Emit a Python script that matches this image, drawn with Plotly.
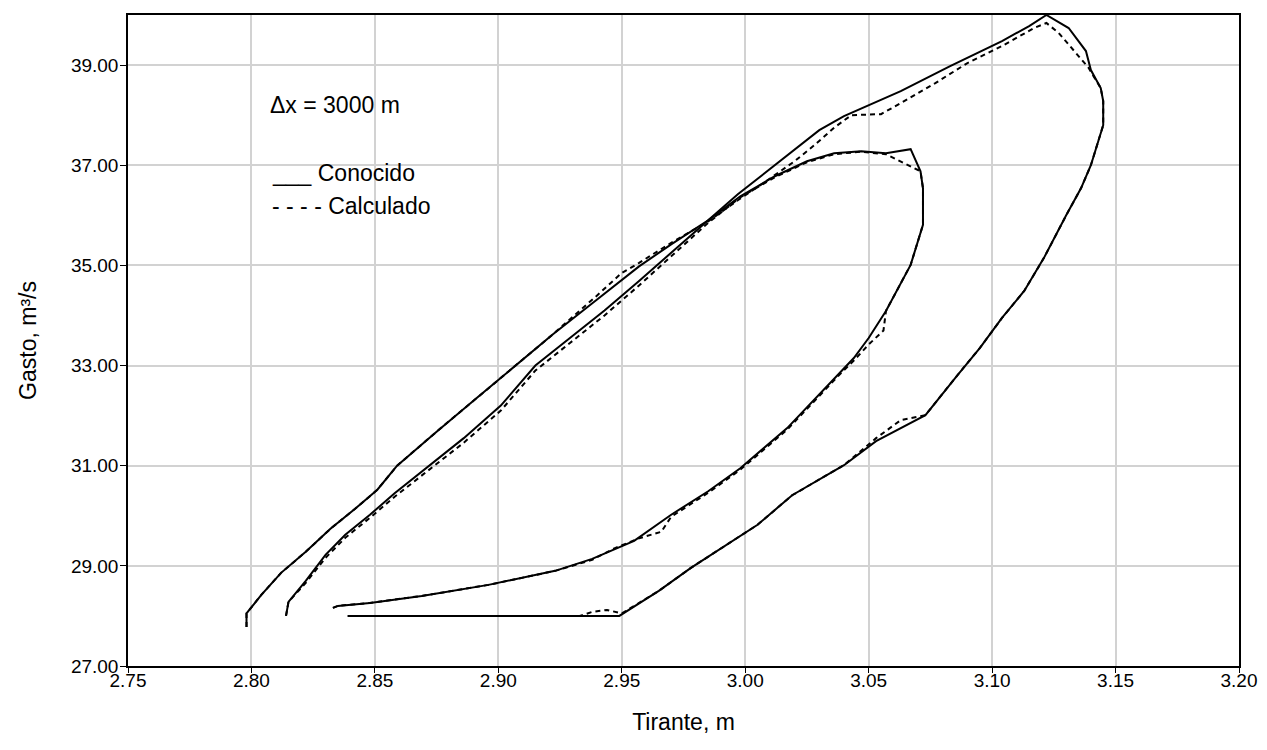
import plotly.graph_objects as go

# ---- data (Tirante m, Gasto m3/s) ----
outer_known_x = [2.798, 2.798, 2.804, 2.812, 2.822, 2.832, 2.842, 2.851, 2.859, 2.875, 2.891, 2.907, 2.922,
                 2.940, 2.957, 2.970, 2.985, 2.997, 3.009, 3.021, 3.030, 3.040, 3.051, 3.063, 3.083, 3.104,
                 3.115, 3.122, 3.131, 3.138, 3.140, 3.144, 3.145, 3.145, 3.143, 3.140, 3.136, 3.130, 3.121,
                 3.113, 3.104, 3.095, 3.086, 3.073, 3.053, 3.040, 3.019, 3.005, 2.978, 2.965, 2.949, 2.900, 2.839]
outer_known_y = [27.78, 28.05, 28.42, 28.86, 29.28, 29.74, 30.14, 30.52, 31.00, 31.68, 32.34, 33.00, 33.62,
                 34.32, 34.98, 35.42, 35.90, 36.42, 36.88, 37.34, 37.70, 37.98, 38.22, 38.48, 38.98, 39.48,
                 39.78, 40.00, 39.74, 39.28, 38.90, 38.54, 38.28, 37.80, 37.48, 37.00, 36.54, 36.00, 35.15,
                 34.49, 33.95, 33.35, 32.81, 32.01, 31.49, 31.01, 30.41, 29.82, 28.96, 28.50, 28.00, 28.00, 28.00]

outer_calc_x = [2.798, 2.798, 2.804, 2.812, 2.822, 2.832, 2.842, 2.851, 2.859, 2.875, 2.891, 2.907, 2.922,
                2.940, 2.950, 2.957, 2.970, 2.985, 2.997, 3.009, 3.020, 3.028, 3.036, 3.043, 3.055, 3.063,
                3.077, 3.090, 3.104, 3.117, 3.122, 3.127, 3.131, 3.135, 3.139, 3.144, 3.145, 3.145, 3.143,
                3.140, 3.136, 3.130, 3.121, 3.113, 3.104, 3.095, 3.086, 3.073, 3.063, 3.053, 3.040, 3.019,
                3.005, 2.978, 2.965, 2.950, 2.944, 2.938, 2.933, 2.900, 2.839]
outer_calc_y = [27.78, 28.05, 28.42, 28.86, 29.28, 29.74, 30.14, 30.52, 31.00, 31.68, 32.34, 33.00, 33.62,
                34.40, 34.85, 35.05, 35.45, 35.88, 36.30, 36.70, 37.08, 37.40, 37.75, 38.00, 38.02, 38.24,
                38.64, 39.04, 39.38, 39.74, 39.84, 39.64, 39.40, 39.18, 38.95, 38.54, 38.28, 37.80, 37.48,
                37.00, 36.54, 36.00, 35.15, 34.49, 33.95, 33.35, 32.81, 32.01, 31.91, 31.55, 31.01, 30.41,
                29.82, 28.96, 28.50, 28.05, 28.12, 28.08, 28.00, 28.00, 28.00]

inner_known_x = [2.814, 2.815, 2.822, 2.830, 2.838, 2.848, 2.858, 2.872, 2.886, 2.901, 2.915, 2.929, 2.943,
                 2.957, 2.971, 2.985, 2.998, 3.012, 3.025, 3.036, 3.047, 3.057, 3.067, 3.071, 3.072, 3.072,
                 3.067, 3.057, 3.050, 3.044, 3.039, 3.017, 2.998, 2.985, 2.970, 2.955, 2.938, 2.923, 2.896,
                 2.869, 2.848, 2.835, 2.833]
inner_known_y = [28.00, 28.28, 28.70, 29.22, 29.62, 30.02, 30.45, 31.00, 31.55, 32.20, 33.00, 33.55, 34.10,
                 34.69, 35.30, 35.90, 36.38, 36.78, 37.08, 37.24, 37.28, 37.24, 37.32, 36.88, 36.54, 35.81,
                 35.01, 34.09, 33.55, 33.15, 32.89, 31.75, 30.95, 30.49, 30.02, 29.50, 29.14, 28.90, 28.62,
                 28.40, 28.26, 28.20, 28.16]

inner_calc_x = [2.814, 2.815, 2.822, 2.830, 2.838, 2.848, 2.858, 2.872, 2.886, 2.901, 2.915, 2.929, 2.943,
                2.957, 2.971, 2.985, 2.998, 3.012, 3.025, 3.036, 3.047, 3.057, 3.071, 3.072, 3.072, 3.067,
                3.057, 3.056, 3.050, 3.044, 3.039, 3.017, 2.998, 2.985, 2.970, 2.966, 2.957, 2.947, 2.938,
                2.923, 2.896, 2.869, 2.848, 2.835, 2.833]
inner_calc_y = [28.00, 28.28, 28.66, 29.16, 29.56, 29.96, 30.38, 30.92, 31.46, 32.10, 32.90, 33.45, 34.00,
                34.60, 35.22, 35.85, 36.36, 36.76, 37.06, 37.22, 37.27, 37.22, 36.88, 36.54, 35.81, 35.01,
                34.09, 33.70, 33.42, 33.10, 32.86, 31.72, 30.92, 30.46, 29.98, 29.68, 29.55, 29.35, 29.12,
                28.90, 28.62, 28.40, 28.26, 28.20, 28.16]

x_ticks = [2.75, 2.80, 2.85, 2.90, 2.95, 3.00, 3.05, 3.10, 3.15, 3.20]
y_ticks = [27, 29, 31, 33, 35, 37, 39]

FONT = "Liberation Sans, Arial, sans-serif"

fig = go.Figure()
solid = dict(color="black", width=2)
dashed = dict(color="black", width=2, dash="5px,4px")
fig.add_trace(go.Scatter(x=outer_calc_x, y=outer_calc_y, mode="lines", line=dashed, name="Calculado", showlegend=False))
fig.add_trace(go.Scatter(x=inner_calc_x, y=inner_calc_y, mode="lines", line=dashed, name="Calculado", showlegend=False))
fig.add_trace(go.Scatter(x=outer_known_x, y=outer_known_y, mode="lines", line=solid, name="Conocido", showlegend=False))
fig.add_trace(go.Scatter(x=inner_known_x, y=inner_known_y, mode="lines", line=solid, name="Conocido", showlegend=False))

fig.update_xaxes(range=[2.75, 3.20], tickvals=x_ticks, ticktext=[f"{v:.2f}" for v in x_ticks],
                 showgrid=True, gridcolor="#d2d2d2", gridwidth=1.5, zeroline=False,
                 showline=True, linecolor="black", linewidth=1.5, mirror=True,
                 ticks="outside", ticklen=5, tickcolor="black", ticklabelstandoff=-9,
                 tickfont=dict(family=FONT, size=19, color="black"),
                 title=dict(text="Tirante, m", font=dict(family=FONT, size=23, color="black"), standoff=24))
fig.update_yaxes(range=[27, 40], tickvals=y_ticks, ticktext=[f"{v:.2f}" for v in y_ticks],
                 showgrid=True, gridcolor="#d2d2d2", gridwidth=1.5, zeroline=False,
                 showline=True, linecolor="black", linewidth=1.5, mirror=True,
                 ticks="outside", ticklen=6, tickcolor="black", ticklabelstandoff=-2,
                 tickfont=dict(family=FONT, size=19, color="black"),
                 title=dict(text="Gasto, m³/s", font=dict(family=FONT, size=23, color="black"), standoff=28))

ann_font = dict(family=FONT, size=23, color="black")
fig.add_annotation(x=2.8067, y=38.2, xref="x", yref="y", text="Δx = 3000 m", showarrow=False,
                   xanchor="left", yanchor="middle", font=ann_font)
fig.add_annotation(x=2.8075, y=36.84, xref="x", yref="y", text="___ Conocido", showarrow=False,
                   xanchor="left", yanchor="middle", font=ann_font)
fig.add_annotation(x=2.8075, y=36.18, xref="x", yref="y", text="- - - - Calculado", showarrow=False,
                   xanchor="left", yanchor="middle", font=ann_font)

fig.update_layout(width=1267, height=750, paper_bgcolor="white", plot_bgcolor="white",
                  margin=dict(l=120, r=36, t=7, b=92, autoexpand=False))
fig.write_html("out.html")
